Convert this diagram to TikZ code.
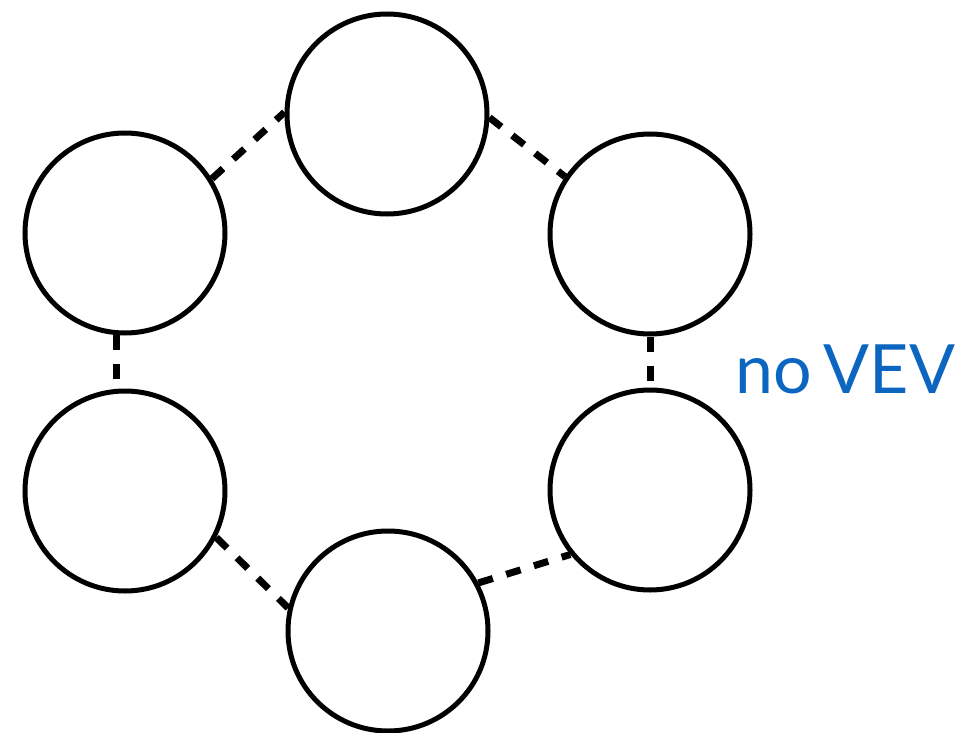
\documentclass[tikz,border=0pt]{standalone}
\usepackage{fontspec}
\setmainfont{Lato}
\definecolor{vevblue}{RGB}{12,102,192}
\begin{document}
\begin{tikzpicture}[x=1pt,y=-1pt,
  ring/.style={circle,draw=black,line width=5pt,minimum size=200pt,inner sep=0pt},
  conn/.style={line width=7pt,dash pattern=on 15pt off 14pt,line cap=butt}]
\useasboundingbox (0,0) rectangle (969,733);
\node[ring] (t)  at (387,114) {};
\node[ring] (tl) at (125,233) {};
\node[ring] (tr) at (650,234) {};
\node[ring] (ml) at (125,491) {};
\node[ring] (mr) at (650,490) {};
\node[ring] (b)  at (388,631) {};
\draw[conn] (tl.32) -- (t.179);
\draw[conn] (t.-2) -- (tr.146);
\draw[conn] (tl.-95) -- (ml.95);
\draw[conn] (tr.-90) -- (mr.90);
\draw[conn] (ml.-27) -- (b.167);
\draw[conn] (b.28) -- (mr.219);
\node[anchor=base west,inner sep=0pt,text=vevblue,font=\fontsize{68}{76}\selectfont] (vev) at (735,393) {\spaceskip=0.18em\relax no VEV};
\end{tikzpicture}
\end{document}
